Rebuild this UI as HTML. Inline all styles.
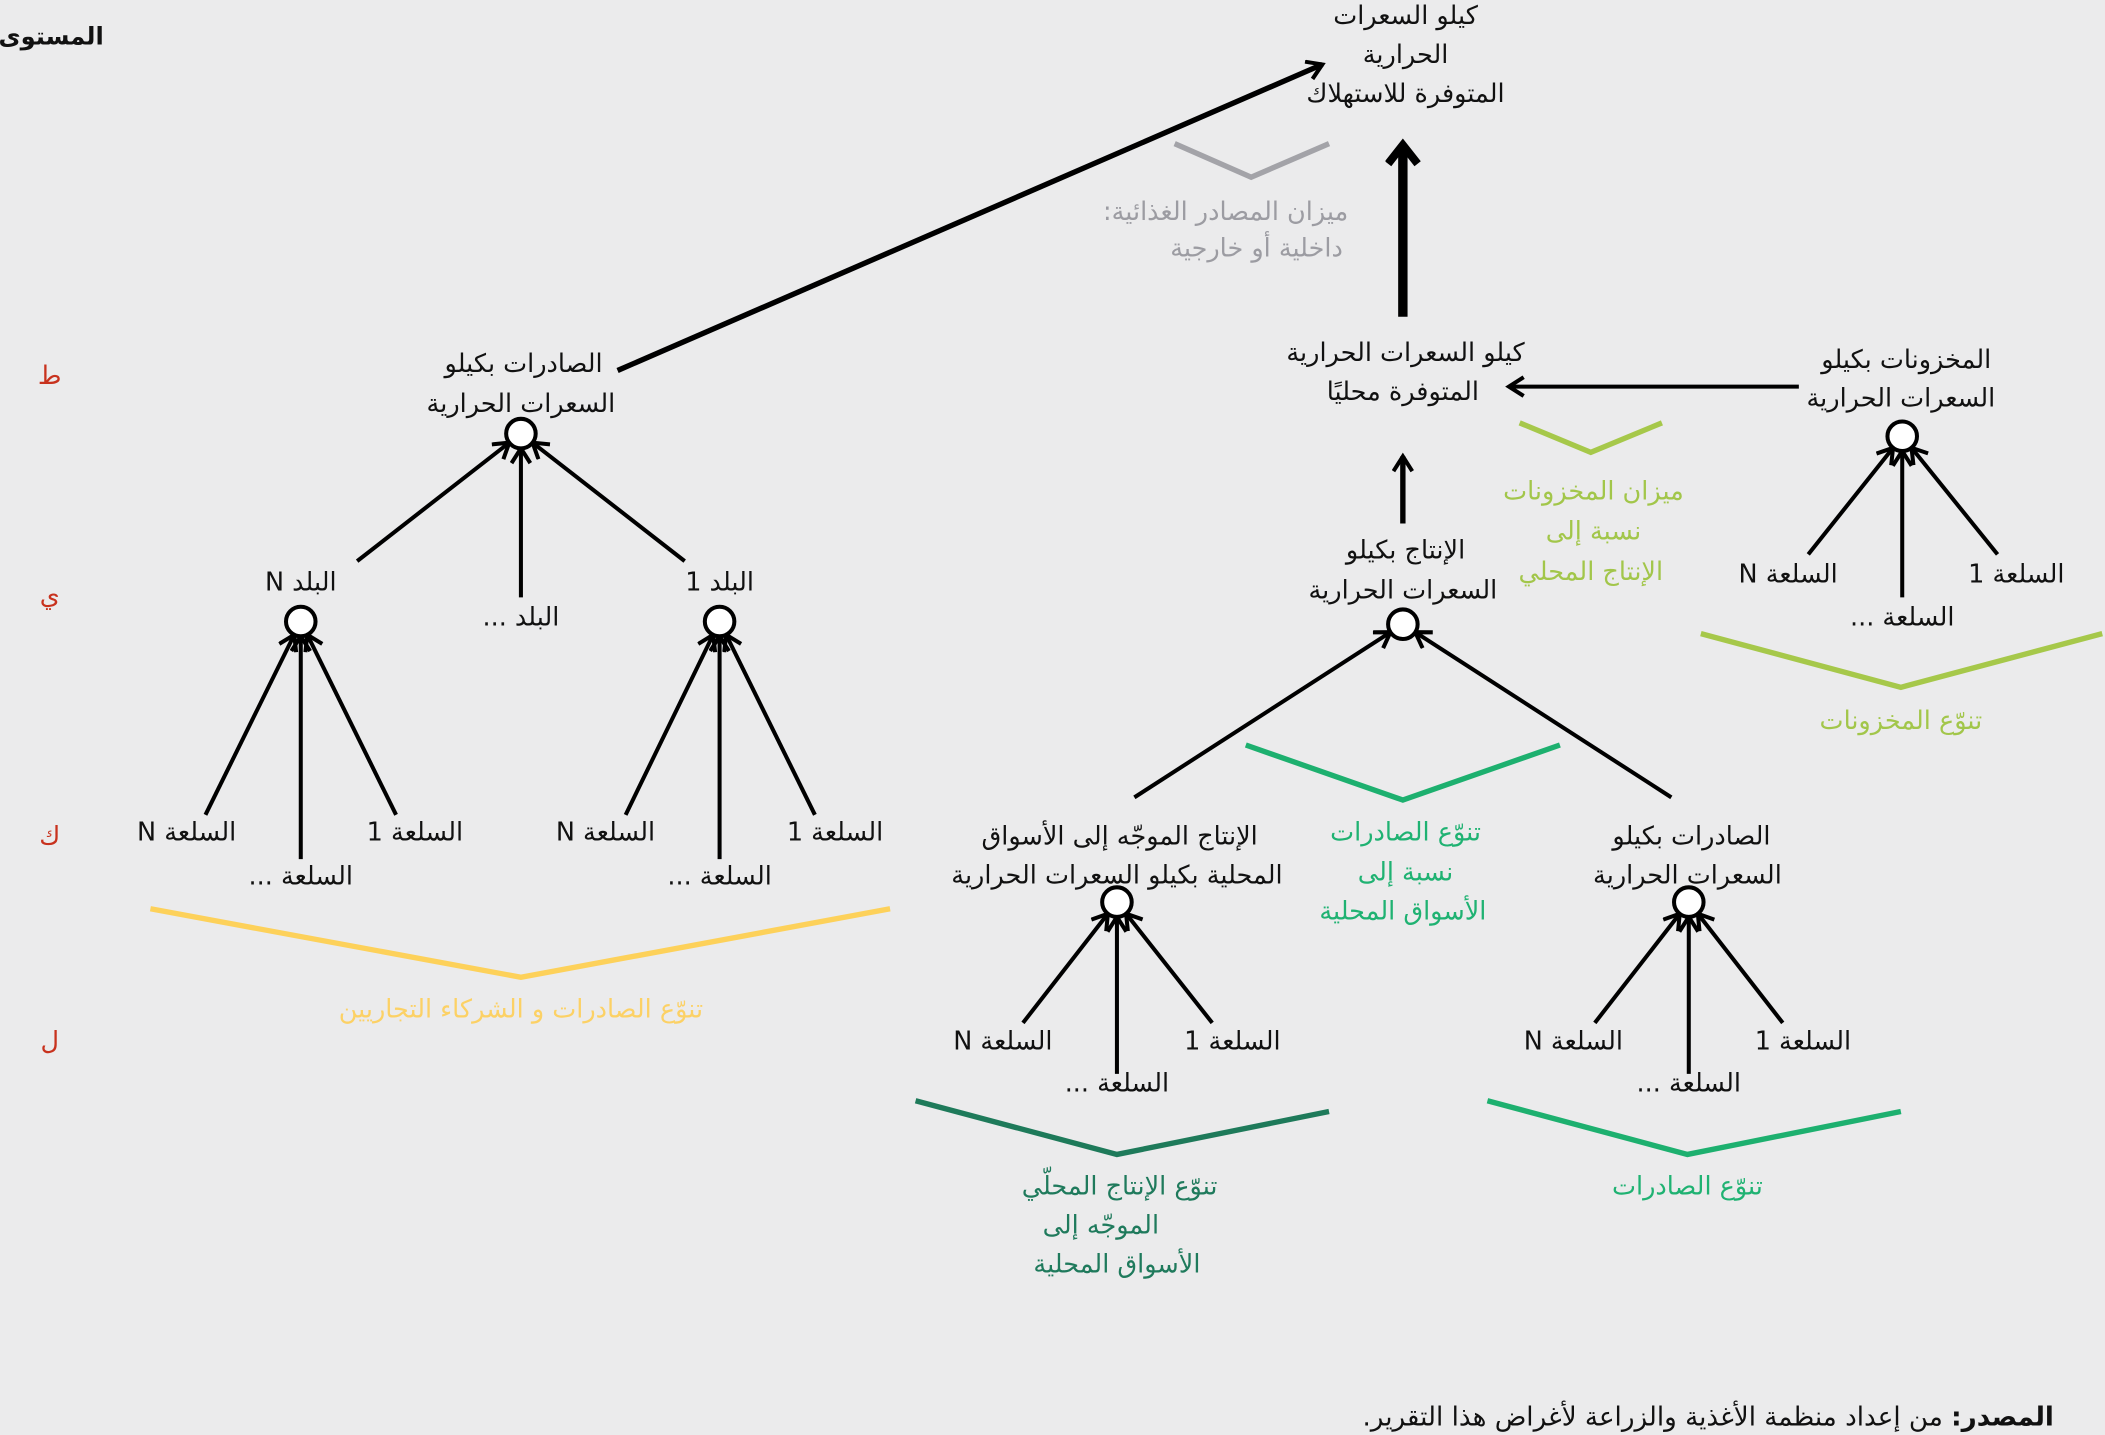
<!DOCTYPE html>
<html><head><meta charset="utf-8">
<style>
html,body{margin:0;padding:0;background:#ebebec;}
svg{display:block;}
text{font-family:"DejaVu Sans","Liberation Sans",sans-serif;font-size:19px;direction:rtl;text-anchor:middle;fill:#111;}
.g{fill:#9c9ca2}.lg{fill:#a2c64a}.mg{fill:#1fb272}.dg{fill:#1f7a5c}.y{fill:#fcd165}.r{fill:#c8321e}
</style></head><body>
<svg id="s" width="2105" height="1435" viewBox="0 0 1568 1069" xmlns="http://www.w3.org/2000/svg">
<defs>
<marker id="a" markerUnits="userSpaceOnUse" markerWidth="20" markerHeight="20" refX="12" refY="8" orient="auto"><path d="M1,1 L12,8 L1,15" fill="none" stroke="#000" stroke-width="3"/></marker>
<marker id="b" markerUnits="userSpaceOnUse" markerWidth="30" markerHeight="30" refX="16" refY="13" orient="auto"><path d="M2,2 L16,13 L2,24" fill="none" stroke="#000" stroke-width="6"/></marker>
</defs>
<rect width="1568" height="1069" fill="#ebebec"/>
<text x="38" y="33" style="font-weight:bold;font-size:18px">المستوى</text>
<text class="r" x="37" y="286">ط</text>
<text class="r" x="37" y="450">ي</text>
<text class="r" x="37" y="629">ك</text>
<text class="r" x="37" y="782">ل</text>

<text x="1047" y="18">كيلو السعرات</text>
<text x="1047" y="47">الحرارية</text>
<text x="1047" y="76">المتوفرة للاستهلاك</text>

<g fill="none" stroke-width="4">
<line x1="460" y1="276" x2="985" y2="48" stroke="#000" marker-end="url(#a)"/>
<line x1="1045" y1="236" x2="1045" y2="108" stroke="#000" stroke-width="7" marker-end="url(#b)"/>
<line x1="1340" y1="288" x2="1124" y2="288" stroke="#000" stroke-width="3" marker-end="url(#a)"/>
<line x1="1045" y1="390" x2="1045" y2="340" stroke="#000" marker-end="url(#a)"/>
<polyline points="875,107 932,132 990,107" stroke="#a3a3a8"/>
<polyline points="1132,315 1185,337 1238,315" stroke="#a6c84a"/>
<polyline points="1267,472 1416,512 1566,472" stroke="#a6c84a"/>
<polyline points="928,555 1045,596 1162,555" stroke="#1db06f"/>
<polyline points="682,820 832,860 990,828" stroke="#1e7a5a"/>
<polyline points="1108,820 1257,860 1416,828" stroke="#1db06f"/>
<polyline points="112,677 388,728 663,677" stroke="#fdd15a"/>
</g>
<g id="trees" stroke="#000" stroke-width="3" fill="none"></g>

<text class="g" x="913" y="164">ميزان المصادر الغذائية:</text>
<text class="g" x="936" y="191">داخلية أو خارجية</text>
<text x="1047" y="269">كيلو السعرات الحرارية</text>
<text x="1045" y="298">المتوفرة محليًا</text>
<text class="lg" x="1187" y="372">ميزان المخزونات</text>
<text class="lg" x="1187" y="402">نسبة إلى</text>
<text class="lg" x="1185" y="432">الإنتاج المحلي</text>

<text x="1420" y="274">المخزونات بكيلو</text>
<text x="1416" y="303">السعرات الحرارية</text>
<text x="1502" y="434">السلعة 1</text>
<text x="1332" y="434">السلعة N</text>
<text x="1417" y="466">السلعة ...</text>
<text class="lg" x="1416" y="543">تنوّع المخزونات</text>

<text x="1047" y="416">الإنتاج بكيلو</text>
<text x="1045" y="446">السعرات الحرارية</text>
<text class="mg" x="1047" y="626">تنوّع الصادرات</text>
<text class="mg" x="1047" y="656">نسبة إلى</text>
<text class="mg" x="1045" y="685">الأسواق المحلية</text>

<text x="834" y="629">الإنتاج الموجّه إلى الأسواق</text>
<text x="832" y="658">المحلية بكيلو السعرات الحرارية</text>
<text x="918" y="782">السلعة 1</text>
<text x="747" y="782">السلعة N</text>
<text x="832" y="813">السلعة ...</text>
<text class="dg" x="834" y="890">تنوّع الإنتاج المحلّي</text>
<text class="dg" x="820" y="919">الموجّه إلى</text>
<text class="dg" x="832" y="948">الأسواق المحلية</text>

<text x="1260" y="629">الصادرات بكيلو</text>
<text x="1257" y="658">السعرات الحرارية</text>
<text x="1343" y="782">السلعة 1</text>
<text x="1172" y="782">السلعة N</text>
<text x="1258" y="813">السلعة ...</text>
<text class="mg" x="1257" y="890">تنوّع الصادرات</text>

<text x="390" y="277">الصادرات بكيلو</text>
<text x="388" y="307">السعرات الحرارية</text>
<text x="224" y="440">البلد N</text>
<text x="388" y="466">البلد ...</text>
<text x="536" y="440">البلد 1</text>
<text x="139" y="626">السلعة N</text>
<text x="309" y="626">السلعة 1</text>
<text x="224" y="659">السلعة ...</text>
<text x="451" y="626">السلعة N</text>
<text x="622" y="626">السلعة 1</text>
<text x="536" y="659">السلعة ...</text>
<text class="y" x="388" y="758">تنوّع الصادرات و الشركاء التجاريين</text>

<text x="1530" y="1062" style="text-anchor:start;font-size:19.5px"><tspan style="font-weight:bold">المصدر:</tspan> من إعداد منظمة الأغذية والزراعة لأغراض هذا التقرير.</text>
</svg>
<script>
var g=document.getElementById('trees'),ns='http://www.w3.org/2000/svg';
var trees=[[1417,325,[[1347,413],[1417,445],[1488,413]]],
[1045,465,[[845,594],[1245,594]]],
[832,672,[[762,762],[832,800],[903,762]]],
[1258,672,[[1188,762],[1258,800],[1328,762]]],
[388,323,[[266,418],[388,445],[510,418]]],
[224,463,[[153,607],[224,640],[295,607]]],
[536,463,[[466,607],[536,640],[607,607]]]];
trees.forEach(function(t){var cx=t[0],cy=t[1],r=11;
t[2].forEach(function(p){var dx=cx-p[0],dy=cy-p[1],L=Math.hypot(dx,dy);
var l=document.createElementNS(ns,'line');l.setAttribute('x1',p[0]);l.setAttribute('y1',p[1]);
l.setAttribute('x2',cx-dx/L*r);l.setAttribute('y2',cy-dy/L*r);l.setAttribute('marker-end','url(#a)');g.appendChild(l);});
var c=document.createElementNS(ns,'circle');c.setAttribute('cx',cx);c.setAttribute('cy',cy);c.setAttribute('r',r);c.setAttribute('fill','#fff');c.setAttribute('stroke','#000');g.appendChild(c);});
</script>
</body></html>
